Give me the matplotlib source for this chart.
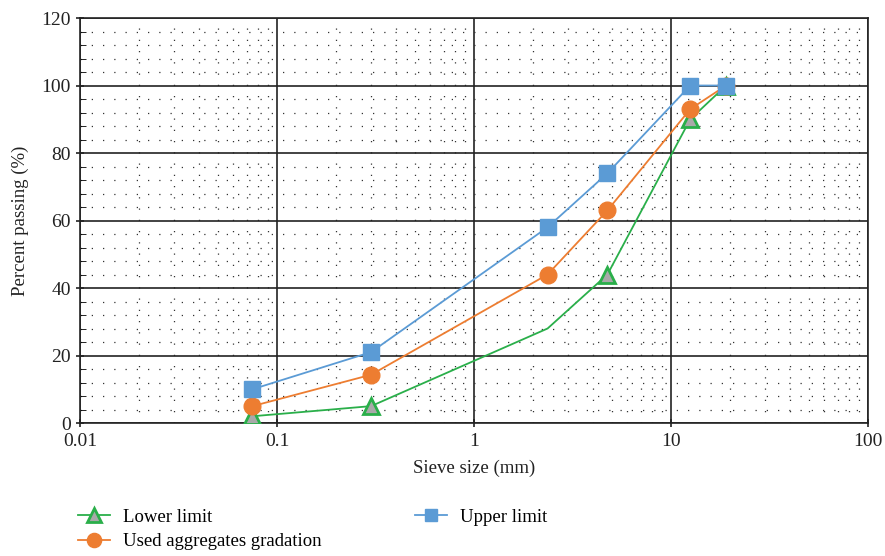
import numpy as np
import matplotlib.pyplot as plt
from matplotlib.ticker import LogLocator, MultipleLocator, FixedFormatter, FixedLocator

plt.rcParams['font.family'] = ['Liberation Serif', 'DejaVu Serif']

# sieve sizes (mm)
sieve = [0.075, 0.3, 2.36, 4.75, 12.5, 19]
lower = [2, 5, 28, 44, 90, 100]
used = [5, 14.3, 44, 63, 93, 100]
upper = [10, 21, 58, 74, 100, 100]

# lower limit has no marker at 2.36 mm
lower_marks = [0, 1, 3, 4, 5]

x_ticks = [0.01, 0.1, 1, 10, 100]
x_labels = ['0.01', '0.1', '1', '10', '100']

fig = plt.figure(figsize=(8.85, 5.56), dpi=100)
ax = fig.add_axes([0.0904, 0.2392, 0.8906, 0.7284])

green = '#2AAF4A'
orange = '#ED7D31'
blue = '#5B9BD5'

ax.plot(sieve, lower, color=green, lw=1.3, marker='^', ms=12,
        mfc='#A9A9A9', mec=green, mew=2, markevery=lower_marks,
        label='Lower limit', zorder=3)
ax.plot(sieve, used, color=orange, lw=1.3, marker='o', ms=12,
        mfc=orange, mec=orange, label='Used aggregates gradation', zorder=4)
ax.plot(sieve, upper, color=blue, lw=1.3, marker='s', ms=11,
        mfc=blue, mec=blue, label='Upper limit', zorder=5)

ax.set_xscale('log')
ax.set_xlim(0.01, 100)
ax.set_ylim(0, 120)
ax.xaxis.set_major_locator(FixedLocator(x_ticks))
ax.xaxis.set_major_formatter(FixedFormatter(x_labels))
ax.xaxis.set_minor_locator(LogLocator(base=10, subs=np.arange(2, 10)))
ax.yaxis.set_major_locator(MultipleLocator(20))
ax.yaxis.set_minor_locator(MultipleLocator(4))

ax.grid(which='major', color='#222222', lw=1.2)
ax.grid(which='minor', color='#333333', lw=0.9, linestyle=(0, (1, 8)))
ax.set_axisbelow(True)

ax.tick_params(axis='both', which='major', labelsize=14, length=6,
               direction='inout', width=1.2, colors='#222222')
ax.tick_params(axis='x', which='major', pad=4)
ax.tick_params(axis='both', which='minor', length=4, direction='in')
ax.tick_params(axis='x', which='minor', length=0)
for s in ax.spines.values():
    s.set_color('#222222')
    s.set_linewidth(1.2)

ax.set_xlabel('Sieve size (mm)', fontsize=13.5, color='#222222', labelpad=7)
ax.set_ylabel('Percent passing (%)', fontsize=13.5, color='#222222', labelpad=9)

ax.legend(loc='upper left', bbox_to_anchor=(-0.024, -0.17), ncol=2,
          frameon=False, fontsize=13.5, handlelength=1.7, markerscale=0.85,
          columnspacing=5.0, labelspacing=0.4, handletextpad=0.7)

plt.savefig('out.png', dpi=100)
